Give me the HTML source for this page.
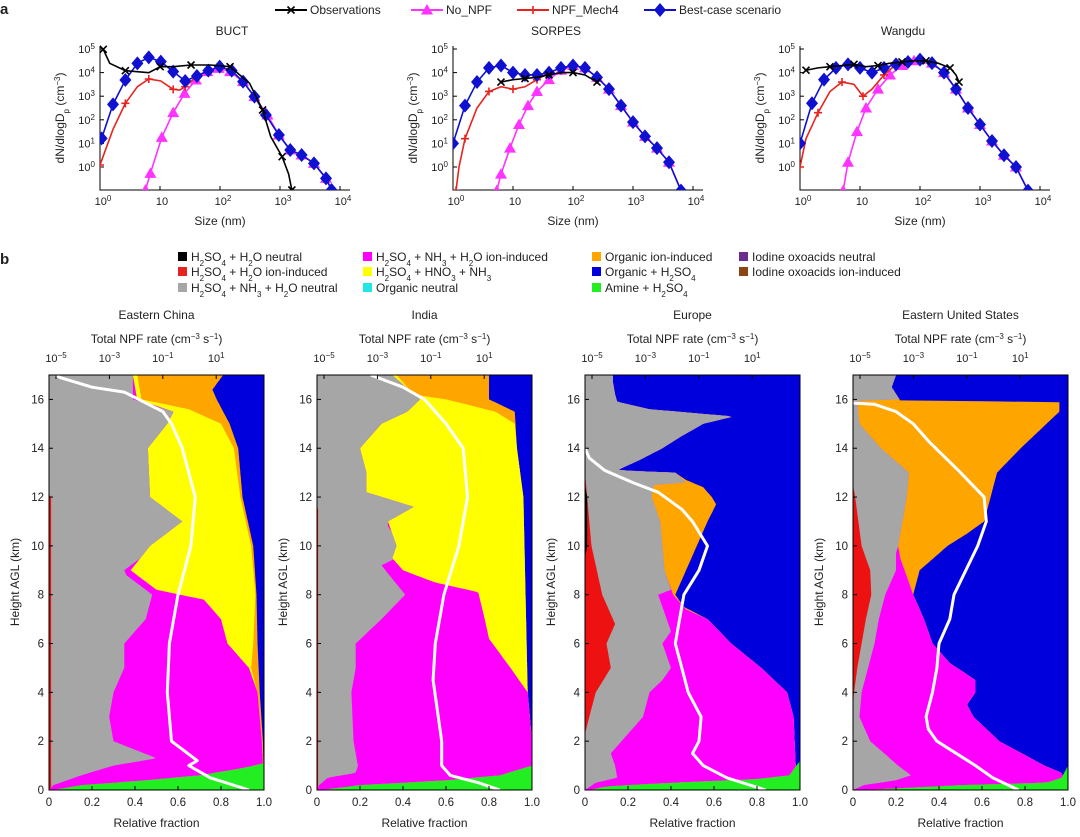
<!DOCTYPE html>
<html><head><meta charset="utf-8"><style>
body{margin:0;background:#fff;}
svg{font-family:"Liberation Sans",Arial,sans-serif;}
</style></head><body>
<svg id="s" width="1080" height="832" viewBox="0 0 1080 832" xmlns="http://www.w3.org/2000/svg"></svg>
<script>
(function(){
const S=document.getElementById('s');let H='';
function T(x,y,t,o){o=o||{};H+=`<text x="${x}" y="${y}" font-size="${o.fs||11.5}" text-anchor="${o.a||'start'}" ${o.w?'font-weight="bold"':''} ${o.tr?'transform="'+o.tr+'"':''} fill="#222">${t}</text>`;}
const sup=t=>`<tspan baseline-shift="super" font-size="8">${t}</tspan>`;
const sub=t=>`<tspan baseline-shift="sub" font-size="8">${t}</tspan>`;
T(0,14,'a',{fs:15,w:1});T(0,264,'b',{fs:15,w:1});
function mark(type,x,y,c){
 if(type=='x')H+=`<path d="M${x-3.5} ${y-3.5}L${x+3.5} ${y+3.5}M${x-3.5} ${y+3.5}L${x+3.5} ${y-3.5}" stroke="${c}" stroke-width="1.6"/>`;
 if(type=='+')H+=`<path d="M${x-4} ${y}L${x+4} ${y}M${x} ${y-4}L${x} ${y+4}" stroke="${c}" stroke-width="1.6"/>`;
 if(type=='t')H+=`<path d="M${x} ${y-6}L${x+6} ${y+4.5}L${x-6} ${y+4.5}Z" fill="${c}"/>`;
 if(type=='d')H+=`<path d="M${x} ${y-7}L${x+6} ${y}L${x} ${y+7}L${x-6} ${y}Z" fill="${c}"/>`;
}
[[275,'Observations','#000','x'],[411,'No_NPF','#ff33ff','t'],[517,'NPF_Mech4','#e8231f','+'],[644,'Best-case scenario','#1010d0','d']].forEach(([x,t,c,m])=>{
 H+=`<line x1="${x}" y1="10" x2="${x+32}" y2="10" stroke="${c}" stroke-width="2"/>`;mark(m,x+16,10,c);T(x+35,14,t,{fs:12});});
const P=[[100,232,'BUCT'],[453,556,'SORPES'],[800,903,'Wangdu']];
const dec=60, y0=167, ydec=23.6;
const bu={
 obs:[[310,148],[330,190],[378,212],[450,218],[485,200],[525,200],[580,195],[640,195],[700,200],[760,250],[800,330],[825,410],[860,470],[880,522],[890,570]],
 blue:[[305,415],[340,313],[378,240],[415,190],[450,172],[487,185],[525,215],[562,243],[598,228],[633,212],[668,200],[705,212],[740,245],[775,290],[810,345],[850,405],[885,450],[920,465],[958,490],[995,535],[1012,570]],
 mag:[[440,570],[455,520],[490,412],[525,338],[560,280],[595,240],[630,215],[665,205],[700,215],[740,245],[775,290],[815,345],[850,405],[885,450],[920,465],[958,490],[995,535],[1012,570]],
 red:[[300,495],[340,388],[378,310],[415,260],[450,237],[487,243],[525,268],[545,270],[562,260],[598,228],[633,212]]};
function cv(a){return a.map(([zx,zy])=>[(zx/3-100)/61.5,(167-zy/3)/23.6]);}
const blueS=[[0,1],[0.2,2.6],[0.4,3.6],[0.6,4.2],[0.8,4.3],[1,4.0],[1.2,3.9],[1.4,3.9],[1.6,4.0],[1.8,4.2],[2,4.3],[2.2,4.2],[2.4,3.8],[2.6,3.3],[2.8,2.6],[3,1.9],[3.2,1.3],[3.4,0.8],[3.6,0.2],[3.8,-1]];
const blueW=[[0,1],[0.2,2.7],[0.4,3.7],[0.6,4.2],[0.8,4.35],[1,4.2],[1.2,4.0],[1.4,4.2],[1.6,4.35],[1.8,4.45],[2,4.55],[2.2,4.4],[2.4,4.0],[2.6,3.3],[2.8,2.5],[3,1.8],[3.2,1.1],[3.4,0.5],[3.6,0],[3.8,-1]];
const D=[
 {obs:cv(bu.obs),mag:cv(bu.mag),red:cv(bu.red),blue:cv(bu.blue)},
 {obs:[[0.8,3.6],[1,3.7],[1.2,3.75],[1.4,3.8],[1.6,3.9],[1.8,4.0],[2,4.0],[2.2,3.9],[2.4,3.6]],
  red:[[0.05,-1],[0.1,0],[0.2,1.2],[0.4,2.5],[0.6,3.2],[0.8,3.4],[1,3.3],[1.2,3.4],[1.4,3.7],[1.6,4.0]],
  mag:[[0.73,-1],[0.8,-0.3],[0.95,0.8],[1.1,1.8],[1.25,2.6],[1.4,3.2],[1.6,3.7],[1.8,4.1],[2,4.3]].concat(blueS.slice(11)),blue:blueS},
 {obs:[[0.1,4.1],[0.3,4.2],[0.5,4.25],[0.7,4.3],[0.9,4.35],[1.1,4.25],[1.3,4.3],[1.5,4.4],[1.7,4.45],[1.9,4.5],[2.1,4.5],[2.3,4.4],[2.5,4.2],[2.6,3.9],[2.65,3.6]],
  red:[[0,0],[0.1,1.2],[0.3,2.3],[0.5,3.2],[0.7,3.6],[0.9,3.5],[1.05,3.0],[1.2,3.3],[1.4,3.9],[1.6,4.35]],
  mag:[[0.72,-1],[0.8,0.2],[0.95,1.5],[1.1,2.5],[1.3,3.3],[1.5,3.9],[1.7,4.3],[1.9,4.5],[2,4.55]].concat(blueW.slice(11)),blue:blueW}];
P.forEach(([x0,tc,name],i)=>{
 T(tc,35,name,{a:'middle',fs:12});
 H+=`<path d="M${x0} 46V190H${x0+250}" fill="none" stroke="#000" stroke-width="1"/>`;
 for(let e=0;e<=5;e++){const y=y0-e*ydec;H+=`<line x1="${x0}" y1="${y}" x2="${x0+4}" y2="${y}" stroke="#000"/>`;T(x0-5,y+4,'10'+sup(e),{a:'end',fs:11});}
 for(let e=0;e<=4;e++){const x=x0+e*dec;H+=`<line x1="${x}" y1="190" x2="${x}" y2="186" stroke="#000"/>`;T(x+(e==1?2:3),205,e==1?'10':'10'+sup(e),{a:'middle',fs:11});}
 T(x0+120,225,'Size (nm)',{a:'middle',fs:12});
 T(0,0,'dN/dlogD'+sub('p')+' (cm'+sup('−3')+')',{a:'middle',fs:12,tr:`translate(${x0-36},118) rotate(-90)`});
 H+=`<clipPath id="c${i}"><rect x="${x0}" y="40" width="260" height="150"/></clipPath><g clip-path="url(#c${i})">`;
 const dd=D[i];
 [['mag','#ff33ff','t'],['red','#e8231f','+'],['blue','#1010d0','d'],['obs','#000','x']].forEach(([k,c,m])=>{
  const pts=dd[k].map(([lx,ln])=>[x0+lx*dec,y0-ln*ydec]);
  H+=`<polyline points="${pts.map(p=>p.join(',')).join(' ')}" fill="none" stroke="${c}" stroke-width="1.6"/>`;
  pts.forEach((p,j)=>{if(m=='x'||m=='+'){if(j%2==0)mark(m,p[0],p[1],c);}else mark(m,p[0],p[1],c);});
 });
 H+='</g>';
});
const L=[[178,257,'#000','H'+sub('2')+'SO'+sub('4')+' + H'+sub('2')+'O neutral'],[178,272,'#e8231f','H'+sub('2')+'SO'+sub('4')+' + H'+sub('2')+'O ion-induced'],[178,288,'#a6a6a6','H'+sub('2')+'SO'+sub('4')+' + NH'+sub('3')+' + H'+sub('2')+'O neutral'],
[363,257,'#ff00ff','H'+sub('2')+'SO'+sub('4')+' + NH'+sub('3')+' + H'+sub('2')+'O ion-induced'],[363,272,'#ffff00','H'+sub('2')+'SO'+sub('4')+' + HNO'+sub('3')+' + NH'+sub('3')],[363,288,'#22e6e6','Organic neutral'],
[592,257,'#ffa500','Organic ion-induced'],[592,272,'#0000dd','Organic + H'+sub('2')+'SO'+sub('4')],[592,288,'#22ee22','Amine + H'+sub('2')+'SO'+sub('4')],
[739,257,'#6a2c91','Iodine oxoacids neutral'],[739,272,'#8b4513','Iodine oxoacids ion-induced']];
L.forEach(([x,y,c,t])=>{H+=`<rect x="${x}" y="${y-5}" width="9" height="9" fill="${c}"/>`;T(x+13,y+4,t,{fs:12});});
const TOP=375,BOT=790,kh=(BOT-TOP)/17;
const BP=[
{L:49,name:'Eastern China',
 green:[[0,0.02],[0.2,0.15],[0.4,0.45],[0.6,0.7],[0.9,0.9],[1.1,1],[17,1]],
 blue:[[0,1],[2,0.995],[4,0.98],[6,0.97],[8,0.965],[10,0.95],[12,0.9],[14,0.88],[15,0.84],[16,0.78],[16.4,0.76],[17,0.81]],
 orange:[[0,1],[2,0.99],[4,0.97],[5,0.94],[6,0.95],[8,0.96],[10,0.94],[12,0.89],[14,0.86],[15,0.8],[15.6,0.65],[16,0.43],[17,0.41]],
 yellow:[[0,1],[2,0.99],[4,0.97],[5,0.93],[6,0.83],[7,0.8],[7.8,0.72],[8.2,0.5],[9,0.38],[10,0.47],[11,0.62],[12,0.47],[14,0.46],[15,0.55],[15.5,0.58],[16,0.41],[17,0.39]],
 magenta:[[0,0],[0.2,0.02],[0.6,0.15],[1,0.3],[1.3,0.5],[2,0.3],[3,0.28],[4,0.3],[5,0.35],[6,0.35],[7,0.45],[8,0.48],[8.8,0.36],[9,0.35],[10,0.5],[11,0.62],[12,0.47],[14,0.46],[15,0.55],[15.5,0.58],[16,0.39],[17,0.39]],
 gray:[[0,0.01],[12,0.01],[12.1,0],[17,0]],black:[],
 white:[[0,0.93],[0.5,0.75],[1,0.65],[1.2,0.69],[2,0.57],[4,0.55],[6,0.56],[8,0.6],[10,0.66],[12,0.68],[14,0.62],[15,0.57],[15.5,0.53],[16.3,0.35],[16.5,0.2],[16.9,0.05],[17,0.03]]},
{L:317,name:'India',
 green:[[0,0.02],[0.2,0.2],[0.4,0.6],[0.6,0.85],[1,1],[17,1]],
 blue:[[0,1],[2,1],[4,0.98],[8,0.97],[12,0.96],[14,0.93],[15.5,0.92],[16,0.8],[17,0.8]],
 orange:[[0,1],[2,1],[4,0.98],[8,0.97],[12,0.96],[14,0.93],[15,0.92],[15.5,0.83],[16,0.6],[16.2,0.45],[17,0.37]],
 yellow:[[0,1],[2,1],[4,0.98],[5,0.9],[6.2,0.8],[7,0.78],[8.1,0.75],[8.5,0.55],[9,0.4],[9.5,0.35],[10,0.37],[10.5,0.35],[11,0.33],[11.6,0.45],[12.2,0.23],[13,0.23],[14,0.2],[15,0.3],[15.5,0.42],[16,0.48],[17,0.35]],
 magenta:[[0,0],[0.2,0.01],[0.5,0.05],[0.7,0.18],[1,0.19],[2,0.17],[4,0.16],[5,0.18],[6,0.18],[7,0.3],[8,0.41],[9.2,0.3],[9.7,0.41],[10.8,0.33],[11,0.33],[11.6,0.45],[12.2,0.23],[13,0.23],[14,0.2],[15,0.3],[15.5,0.42],[16,0.48],[17,0.35]],
 gray:[[0,0.005],[11.5,0.005],[11.6,0],[17,0]],black:[],
 white:[[0,0.85],[0.3,0.75],[0.6,0.62],[1,0.58],[2,0.58],[4.5,0.54],[6,0.55],[8,0.59],[10,0.66],[12,0.7],[14,0.68],[15,0.6],[16,0.5],[16.5,0.4],[17,0.25]]},
{L:585,name:'Europe',
 green:[[0,0.02],[0.15,0.1],[0.3,0.4],[0.45,0.8],[0.6,0.95],[1.2,1],[17,1]],
 blue:[[0,1],[0.6,1],[1,0.98],[3,0.97],[4,0.94],[5,0.82],[6,0.68],[7,0.57],[7.5,0.46],[8,0.42],[9,0.47],[10,0.52],[11,0.57],[11.7,0.61],[12,0.59],[12.4,0.55],[12.7,0.47],[13,0.42],[13.1,0.15],[13.5,0.25],[14,0.36],[14.5,0.45],[15,0.55],[15.3,0.69],[15.6,0.3],[15.9,0.15],[16.2,0.14],[16.7,0.13],[17,0.13]],
 orange:[[0,1],[0.6,1],[1,0.98],[3,0.97],[4,0.94],[5,0.82],[6,0.68],[7,0.57],[7.4,0.47],[8,0.41],[9,0.37],[10,0.36],[11,0.35],[12,0.31],[12.5,0.32],[12.6,0.47],[13,0.42],[13.1,0.15],[13.5,0.25],[14,0.36],[14.5,0.45],[15,0.55],[15.3,0.69],[15.6,0.3],[15.9,0.15],[16.2,0.14],[16.7,0.13],[17,0.13]],
 magenta:[[0,0],[0.3,0.05],[0.5,0.15],[1,0.14],[1.5,0.12],[2,0.17],[3,0.27],[4,0.3],[4.5,0.36],[5,0.4],[5.5,0.38],[6,0.36],[6.5,0.4],[7,0.38],[8,0.34],[8.2,0.4],[9,0.37],[10,0.36],[11,0.35],[12,0.31],[12.5,0.32],[12.6,0.47],[13,0.42],[13.1,0.15],[13.5,0.25],[14,0.36],[14.5,0.45],[15,0.55],[15.3,0.69],[15.6,0.3],[15.9,0.15],[16.2,0.14],[16.7,0.13],[17,0.13]],
 gray:[[0,0],[2.3,0],[3,0.02],[4,0.05],[5,0.12],[6,0.1],[6.8,0.14],[8,0.08],[10,0.03],[12.5,0.005],[13,0],[17,0]],
 black:[[9.5,0],[10,0.01],[12,0.01],[12.5,0]],
 white:[[0,0.84],[0.5,0.66],[1,0.55],[1.5,0.5],[2,0.53],[3,0.54],[4,0.48],[5,0.45],[6,0.42],[7,0.44],[8,0.46],[9,0.53],[10,0.57],[11,0.5],[11.5,0.45],[12.2,0.34],[12.6,0.22],[13.1,0.09],[13.6,0.02],[14,0]]},
{L:853,name:'Eastern United States',
 green:[[0,0.05],[0.2,0.5],[0.3,0.9],[0.5,0.97],[1,1],[17,1]],
 blue:[[0,1],[0.5,0.98],[0.7,0.97],[1,0.89],[2,0.68],[3,0.56],[3.5,0.53],[4,0.57],[4.5,0.57],[5.2,0.45],[6,0.37],[7,0.33],[8,0.28],[9,0.31],[10,0.44],[10.5,0.53],[11,0.61],[12,0.64],[13,0.67],[14,0.78],[15,0.9],[15.5,0.96],[15.9,0.96],[15.95,0.22],[16.5,0.18],[17,0.2]],
 orange:[[0,1],[0.5,0.98],[0.7,0.97],[1,0.89],[2,0.68],[3,0.56],[3.5,0.53],[4,0.57],[4.5,0.57],[5.2,0.45],[6,0.37],[7,0.33],[8,0.28],[9.5,0.22],[10,0.21],[11,0.23],[12,0.25],[13,0.26],[14,0.13],[15,0.03],[15.95,0.02],[16,0.22],[16.5,0.18],[17,0.2]],
 magenta:[[0,0],[0.2,0.05],[0.4,0.2],[0.6,0.27],[1,0.21],[2,0.08],[3,0.03],[4,0.04],[5,0.07],[6,0.1],[7,0.12],[8,0.15],[9,0.2],[9.7,0.2],[10,0.21],[11,0.23],[12,0.25],[13,0.26],[14,0.13],[15,0.03],[15.95,0.02],[16,0.22],[16.5,0.18],[17,0.2]],
 gray:[[0,0],[3.5,0],[4,0.005],[5,0.02],[6,0.04],[7,0.06],[8,0.085],[9,0.08],[10,0.04],[12,0.01],[12.5,0],[17,0]],black:[],
 white:[[0,0.77],[0.5,0.65],[1,0.57],[2,0.39],[2.5,0.35],[3,0.34],[4,0.37],[5,0.39],[6,0.4],[7,0.45],[8,0.47],[10,0.58],[11,0.62],[12,0.61],[13,0.5],[14.3,0.35],[15,0.28],[15.5,0.2],[15.8,0.1],[15.85,0]]}];
const W=215;
function interp(arr,h){const a=arr.slice().sort((u,v)=>u[0]-v[0]);if(h<=a[0][0])return a[0][1];if(h>=a[a.length-1][0])return a[a.length-1][1];
 for(let i=1;i<a.length;i++){if(h<=a[i][0]){const [h0,f0]=a[i-1],[h1,f1]=a[i];return h1==h0?f1:f0+(f1-f0)*(h-h0)/(h1-h0);}}return 0;}
BP.forEach((p)=>{
 const X=f=>p.L+f*W, Y=h=>BOT-h*kh;
 const cx=p.L+W/2;
 T(cx,319,p.name,{a:'middle',fs:12});
 T(cx,343,'Total NPF rate (cm'+sup('−3')+' s'+sup('−1')+')',{a:'middle',fs:12});
 // sample heights
 const hs=[];for(let h=0;h<=17.0001;h+=0.04)hs.push(+h.toFixed(3));
 const layers=[[p.green,'#0000dd'],[p.blue,'#ffa500'],[p.orange,'#ffff00'],[p.yellow||p.orange,'#ff00ff'],[p.magenta,'#a6a6a6'],[p.gray,'#ee1111']];
 H+=`<rect x="${p.L}" y="${TOP}" width="${W}" height="${BOT-TOP}" fill="#22ee22"/>`;
 let prev=hs.map(()=>1);
 layers.forEach(([arr,c])=>{
  const v=hs.map((h,i)=>Math.min(interp(arr,h),prev[i]));prev=v;
  let d=`M${p.L} ${BOT}`;hs.forEach((h,i)=>d+=`L${X(v[i]).toFixed(1)} ${Y(h).toFixed(1)}`);d+=`L${p.L} ${TOP}Z`;
  H+=`<path d="${d}" fill="${c}"/>`;
 });
 if(p.black.length){let d=`M${p.L} ${Y(9.5)}`;p.black.forEach(([h,f])=>d+=`L${X(f)} ${Y(h)}`);H+=`<path d="${d}Z" fill="#000"/>`;}
 H+=`<polyline points="${p.white.map(([h,f])=>X(f).toFixed(1)+','+Y(h).toFixed(1)).join(' ')}" fill="none" stroke="#fff" stroke-width="3" stroke-linejoin="round"/>`;
 H+=`<rect x="${p.L}" y="${TOP}" width="${W}" height="${BOT-TOP}" fill="none" stroke="#000" stroke-width="1"/>`;
 for(let h=0;h<=16;h+=2){H+=`<line x1="${p.L}" y1="${Y(h)}" x2="${p.L+4}" y2="${Y(h)}" stroke="#000"/>`;T(p.L-5,Y(h)+4,h,{a:'end',fs:11.5});}
 for(let k=0;k<=5;k++){const x=X(k*0.2);H+=`<line x1="${x}" y1="${BOT}" x2="${x}" y2="${BOT-4}" stroke="#000"/>`;T(x,806,k==0?'0':k==5?'1.0':(k*0.2).toFixed(1),{a:'middle',fs:11.5});}
 for(let e=-5;e<=1;e+=2){const x=p.L+7+26.7*(e+5);H+=`<line x1="${x}" y1="${TOP}" x2="${x}" y2="${TOP+4}" stroke="#000"/>`;T(x,362,'10'+sup(e<0?'−'+(-e):e),{a:'middle',fs:11});}
 T(cx,827,'Relative fraction',{a:'middle',fs:12});
 T(0,0,'Height AGL (km)',{a:'middle',fs:12,tr:`translate(${p.L-30},582) rotate(-90)`});
});
S.innerHTML=H;
})();
</script>
</body></html>
